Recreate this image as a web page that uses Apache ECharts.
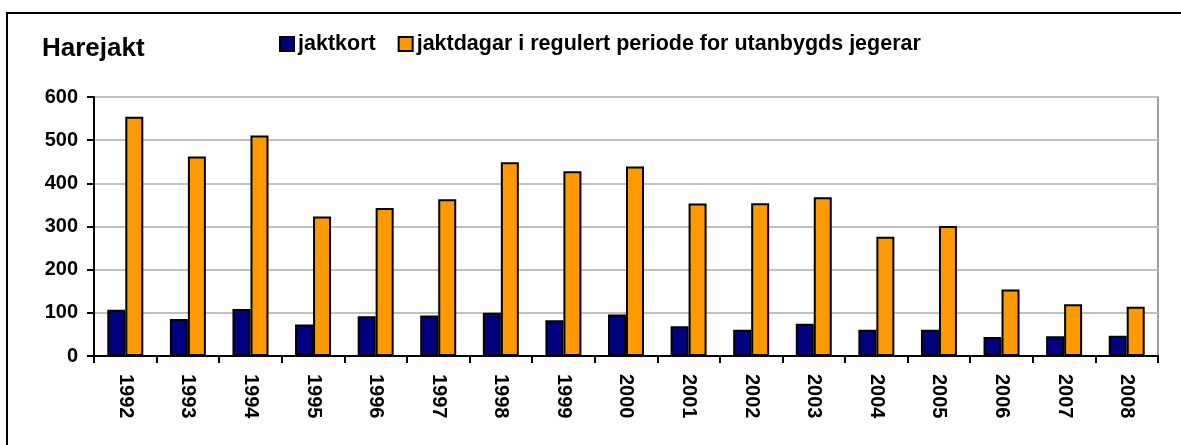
<!DOCTYPE html>
<html>
<head>
<meta charset="utf-8">
<script src="https://cdn.jsdelivr.net/npm/echarts@6/dist/echarts.min.js"></script>
<style>
  html, body { margin: 0; padding: 0; background: #fff; }
  #main { width: 1181px; height: 445px; }
  /* ramme oppe og til venstre */
  #frame { position: absolute; left: 6px; top: 12px; width: 1175px; height: 433px;
           border-left: 2px solid #000; border-top: 2px solid #000;
           box-sizing: border-box; pointer-events: none; }
</style>
</head>
<body>
<div id="main"></div>
<div id="frame"></div>
<script>
// år
var years = ['1992', '1993', '1994', '1995', '1996', '1997', '1998', '1999', '2000',
    '2001', '2002', '2003', '2004', '2005', '2006', '2007', '2008'];
// jaktkort
var jaktkort = [107, 86, 109, 73, 92, 94, 100, 83, 96, 69, 61, 75, 61, 61, 44, 46, 47];
// jaktdagar i regulert periode for utanbygds jegerar
var jaktdagar = [554, 462, 511, 323, 343, 363, 449, 428, 439, 353, 354, 368, 276, 301, 154, 120, 114];
var yTicks = [0, 100, 200, 300, 400, 500, 600];

var chart = echarts.init(document.getElementById('main'));
var font = 'Arial, "Liberation Sans", sans-serif';

var option = {
    animation: false,
    backgroundColor: '#fff',
    title: {
        text: 'Harejakt',
        left: 42,
        top: 36,
        padding: 0,
        textStyle: { fontFamily: font, fontSize: 26, fontWeight: 'bold', color: '#000' }
    },
    legend: {
        left: 279,
        top: 33,
        padding: 0,
        itemWidth: 14,
        itemHeight: 14,
        itemGap: 22,
        icon: 'rect',
        textStyle: { fontFamily: font, fontSize: 21.5, fontWeight: 'bold', color: '#000', padding: [0, 0, 0, -1] },
        data: ['jaktkort', 'jaktdagar i regulert periode for utanbygds jegerar']
    },
    grid: {
        left: 94,
        right: 23,
        top: 97,
        bottom: 89,
        show: true,
        borderColor: '#808080',
        borderWidth: 1.5
    },
    xAxis: {
        type: 'category',
        data: years,
        axisLine: { lineStyle: { color: '#000', width: 2 } },
        axisTick: { show: true, length: 7, lineStyle: { color: '#000', width: 2 } },
        axisLabel: {
            rotate: -90,
            margin: 18,
            interval: 0,
            fontFamily: font, fontSize: 20, fontWeight: 'bold', color: '#000'
        }
    },
    yAxis: {
        type: 'value',
        min: yTicks[0],
        max: yTicks[yTicks.length - 1],
        interval: 100,
        axisLine: { show: true, lineStyle: { color: '#000', width: 2 } },
        axisTick: { show: true, length: 7, lineStyle: { color: '#000', width: 2 } },
        splitLine: { lineStyle: { color: '#c0c0c0', width: 2 } },
        axisLabel: { margin: 16, fontFamily: font, fontSize: 20, fontWeight: 'bold', color: '#000' }
    },
    series: [
        {
            name: 'jaktkort',
            type: 'bar',
            data: jaktkort,
            barWidth: 18,
            barGap: '0%',
            itemStyle: { color: '#000080', borderColor: '#000', borderWidth: 2 }
        },
        {
            name: 'jaktdagar i regulert periode for utanbygds jegerar',
            type: 'bar',
            data: jaktdagar,
            barWidth: 18,
            barGap: '0%',
            itemStyle: { color: '#ff9900', borderColor: '#000', borderWidth: 2 }
        }
    ]
};
chart.setOption(option);
</script>
</body>
</html>
